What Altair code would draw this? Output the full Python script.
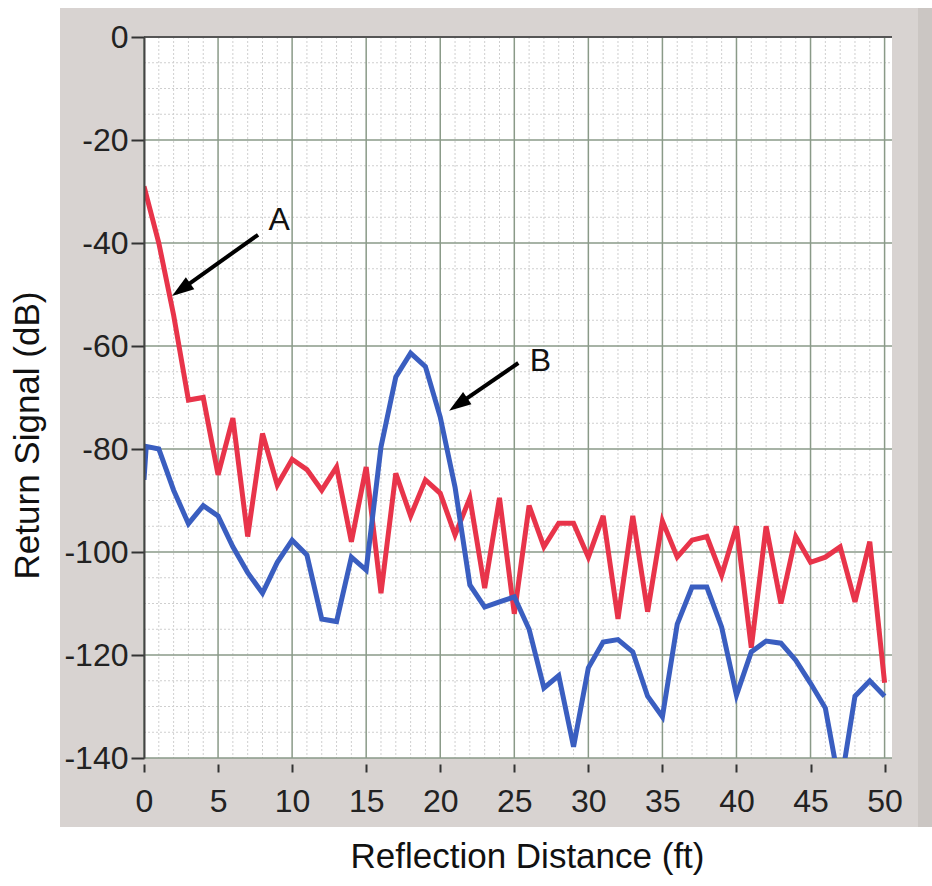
import altair as alt
import pandas as pd

# ---------------- data ----------------
dist_red = list(range(0, 51))
red_db = [-29, -40, -54, -70.5, -70, -85, -74, -97, -77, -87,
          -82, -84, -88, -83.5, -98, -83.5, -108, -84.7, -93, -86,
          -88.6, -96.7, -89.5, -107, -89.5, -112, -91, -99, -94.4, -94.4,
          -101, -93, -113, -93, -111.6, -94, -101, -97.7, -97, -104.5,
          -95, -118.6, -95, -110, -97, -102, -101, -99, -109.7, -98,
          -125.4]

dist_blue = [0, 0.15] + list(range(1, 51))
blue_db = [-86, -79.5, -80, -88, -94.5, -91, -93, -99, -104, -108,
           -102, -97.7, -100.6, -113, -113.5, -101, -103.5, -79.6, -66, -61.4,
           -64, -73.8, -87.4, -106.4, -110.7, -109.7, -108.7, -115, -126.4, -124,
           -137.8, -122.5, -117.5, -117, -119.4, -128, -132, -114, -106.8, -106.8,
           -114.6, -127.8, -119.4, -117.3, -117.7, -121, -125.5, -130.3, -146, -128,
           -125, -128]

x_ticks = list(range(0, 51, 5))
y_ticks = list(range(-140, 1, 20))
x_minor = [v for v in range(0, 51) if v % 5 != 0]
y_minor = [v for v in range(-140, 1, 5) if v % 20 != 0]

ann_label = ["A", "B"]
ann_lx = [9.12, 26.76]
ann_ly = [-35.5, -62.9]
arrow_tail_x = [7.70, 25.27]
arrow_tail_y = [-38.4, -63.3]
arrow_head_x = [2.57, 21.28]
arrow_head_y = [-48.9, -71.2]
arrow_angle = [234.8, 235.4]

# ---------------- chart ----------------
W, H = 748, 721
FONT = "Liberation Sans"
xs = alt.Scale(domain=[0, 50.5], nice=False, zero=False)
ys = alt.Scale(domain=[-140, 0], nice=False, zero=False)

x_axis = alt.Axis(values=x_ticks, grid=False, domain=False, tickSize=8, tickWidth=2,
                  tickColor="#333333", offset=6, labelFont=FONT, labelFontSize=32,
                  labelColor="#222222", labelPadding=14, labelFlush=False, labelOverlap=False,
                  title="Reflection Distance (ft)", titleFont=FONT, titleFontSize=35,
                  titleFontWeight="normal", titleColor="#111111", titleX=383, titleY=103,
                  titleBaseline="alphabetic", titleAlign="center", zindex=1)
y_axis = alt.Axis(values=y_ticks, grid=False, domain=True, domainColor="#444444", domainWidth=2,
                  tickSize=13, tickWidth=2, tickColor="#333333", labelFont=FONT,
                  labelFontSize=32, labelColor="#222222", labelPadding=3, labelFlush=False,
                  labelOverlap=False, labelExpr="replace(datum.label, '\u2212', '-')",
                  title="Return Signal (dB)", titleFont=FONT, titleFontSize=35,
                  titleFontWeight="normal", titleColor="#111111", titleX=-106, titleY=398,
                  titleAngle=270, titleBaseline="alphabetic", titleAlign="center", zindex=1)


def X(field):
    return alt.X(field, type="quantitative", scale=xs, axis=x_axis)


def Y(field):
    return alt.Y(field, type="quantitative", scale=ys, axis=y_axis)


one = pd.DataFrame({"k": [0]})
red_df = pd.DataFrame({"d": dist_red, "v": red_db})
blue_df = pd.DataFrame({"d": dist_blue, "v": blue_db})
ann_df = pd.DataFrame({"lab": ann_label, "lx": ann_lx, "ly": ann_ly,
                       "tx": arrow_tail_x, "ty": arrow_tail_y,
                       "hx": arrow_head_x, "hy": arrow_head_y, "ang": arrow_angle})

frame = alt.Chart(one).mark_rect(color="#d8d3d1", clip=False).encode(
    x=alt.value(-84), x2=alt.value(774), y=alt.value(-29), y2=alt.value(790))
shade = alt.Chart(one).mark_rect(color="#cbc6c3", clip=False).encode(
    x=alt.value(774), x2=alt.value(788), y=alt.value(-29), y2=alt.value(790))
plotbg = alt.Chart(one).mark_rect(color="white").encode(
    x=alt.value(0), x2=alt.value(W), y=alt.value(0), y2=alt.value(H))

vminor = alt.Chart(pd.DataFrame({"g": x_minor})).mark_rule(
    color="#cfcfcf", strokeDash=[2, 2], strokeWidth=1).encode(
    x=X("g"), y=alt.value(0), y2=alt.value(H))
hminor = alt.Chart(pd.DataFrame({"g": y_minor})).mark_rule(
    color="#cfcfcf", strokeDash=[2, 2], strokeWidth=1).encode(
    y=Y("g"), x=alt.value(0), x2=alt.value(W))
vmajor = alt.Chart(pd.DataFrame({"g": x_ticks})).mark_rule(
    color="#8a9a88", strokeWidth=1.5).encode(
    x=X("g"), y=alt.value(0), y2=alt.value(H))
hmajor = alt.Chart(pd.DataFrame({"g": y_ticks})).mark_rule(
    color="#8a9a88", strokeWidth=1.5).encode(
    y=Y("g"), x=alt.value(0), x2=alt.value(W))
topline = alt.Chart(one).mark_rule(color="#555555", strokeWidth=2).encode(
    x=alt.value(0), x2=alt.value(W), y=alt.value(0))

red = alt.Chart(red_df).mark_line(color="#e8344a", strokeWidth=5, clip=True).encode(
    x=X("d"), y=Y("v"))
blue = alt.Chart(blue_df).mark_line(color="#3a5ec0", strokeWidth=5, clip=True).encode(
    x=X("d"), y=Y("v"))

shaft = alt.Chart(ann_df).mark_rule(color="black", strokeWidth=4).encode(
    x=X("tx"), y=Y("ty"), x2="hx:Q", y2="hy:Q")
head = alt.Chart(ann_df).mark_point(shape="M0,-1L0.6,0.8L-0.6,0.8Z", filled=True,
                                    color="black", opacity=1, size=600).encode(
    x=X("hx"), y=Y("hy"), angle=alt.Angle("ang:Q", scale=None))
labels = alt.Chart(ann_df).mark_text(font=FONT, fontSize=32, color="#111111").encode(
    x=X("lx"), y=Y("ly"), text="lab:N")

chart = alt.layer(frame, shade, plotbg, vminor, hminor, vmajor, hmajor, topline,
                  red, blue, shaft, head, labels).properties(
    width=W, height=H,
    padding={"left": 144, "top": 37, "right": 40, "bottom": 128},
    autosize="none", background="white"
).configure_view(stroke=None)

chart.save("out.html", embed_options={"renderer": "svg", "actions": False})
